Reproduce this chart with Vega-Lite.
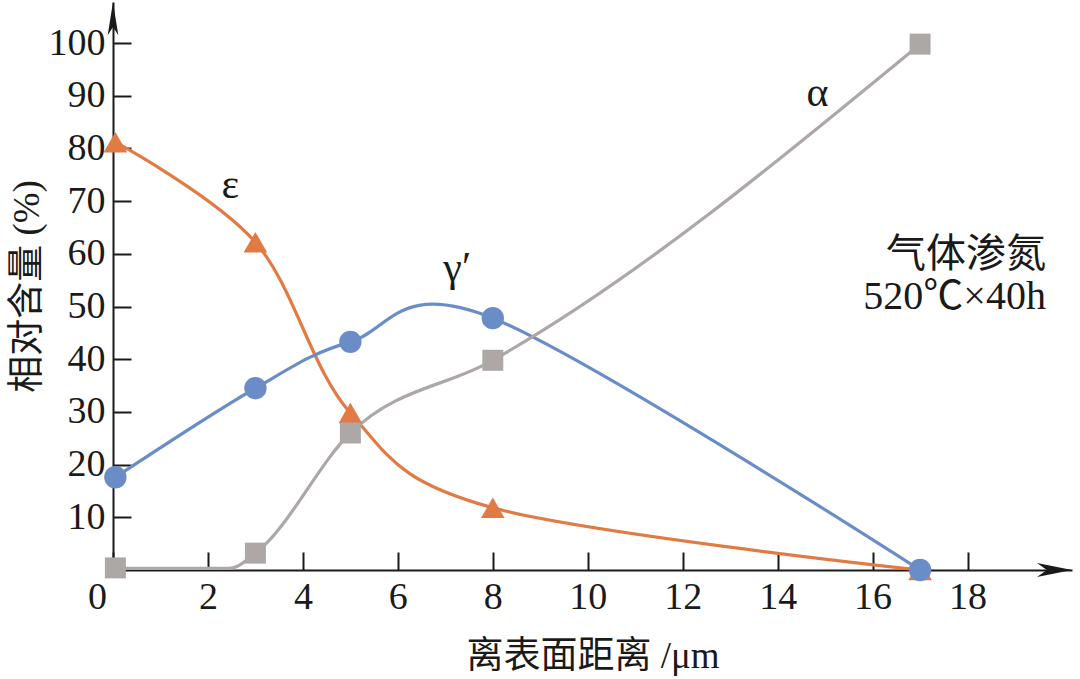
{
  "$schema": "https://vega.github.io/schema/vega-lite/v6.json",
  "width": 959,
  "height": 568,
  "autosize": {"type": "none"},
  "padding": {"left": 113, "top": 2, "right": 8, "bottom": 109},
  "background": "white",
  "config": {
    "view": {"stroke": null},
    "axis": {
      "grid": false,
      "domainColor": "#1a1a1a",
      "domainWidth": 2,
      "tickColor": "#1a1a1a",
      "tickWidth": 2,
      "tickSize": -18,
      "labelFont": "Liberation Serif",
      "labelFontSize": 38,
      "labelColor": "#1a1a1a",
      "titleFont": "Liberation Serif, Noto Sans CJK SC",
      "titleFontSize": 37,
      "titleFontWeight": "normal",
      "titleColor": "#1a1a1a"
    }
  },
  "datasets": {
    "pts": [
      {"phase": "ε", "x": 0.05, "y": 81.2},
      {"phase": "ε", "x": 3, "y": 62.2},
      {"phase": "ε", "x": 5, "y": 29.8},
      {"phase": "ε", "x": 8, "y": 11.8},
      {"phase": "ε", "x": 17, "y": 0},
      {"phase": "γ′", "x": 0.05, "y": 17.6},
      {"phase": "γ′", "x": 3, "y": 34.5},
      {"phase": "γ′", "x": 5, "y": 43.3},
      {"phase": "γ′", "x": 8, "y": 47.8},
      {"phase": "γ′", "x": 17, "y": 0},
      {"phase": "α", "x": 0.05, "y": 0.4},
      {"phase": "α", "x": 3, "y": 3.2},
      {"phase": "α", "x": 5, "y": 26},
      {"phase": "α", "x": 8, "y": 39.8},
      {"phase": "α", "x": 17, "y": 99.8}
    ],
    "alphaLine": [
      {"phase": "α", "x": 0.05, "y": 0.3},
      {"phase": "α", "x": 2.45, "y": 0.3},
      {"phase": "α", "x": 3, "y": 3.2},
      {"phase": "α", "x": 5, "y": 26},
      {"phase": "α", "x": 8, "y": 39.8},
      {"phase": "α", "x": 17, "y": 99.8}
    ],
    "notes": [
      {"x": 2.47, "y": 73, "label": "ε"},
      {"x": 7.25, "y": 57.3, "label": "γ′"},
      {"x": 14.84, "y": 90.5, "label": "α"}
    ],
    "notesR": [
      {"x": 19.65, "y": 59.8, "label": "气体渗氮"},
      {"x": 19.65, "y": 51.8, "label": "520℃×40h"}
    ],
    "arrowX": [{"x": 20.2, "y": 0}],
    "arrowY": [{"x": 0, "y": 107.8}]
  },
  "layer": [
    {
      "data": {"name": "pts"},
      "transform": [{"filter": "datum.phase !== 'α'"}],
      "mark": {"type": "line", "interpolate": "cardinal", "strokeWidth": 3.2},
      "encoding": {
        "x": {
          "field": "x", "type": "quantitative",
          "scale": {"domain": [0, 20.2], "nice": false},
          "axis": {
            "values": [0, 2, 4, 6, 8, 10, 12, 14, 16, 18],
            "title": "离表面距离 /μm",
            "labelPadding": 26,
            "labelFlush": false,
            "titlePadding": 22,
            "labelOffset": {"condition": {"test": "datum.value === 0", "value": -16}, "value": 0}
          }
        },
        "y": {
          "field": "y", "type": "quantitative",
          "scale": {"domain": [0, 107.8], "nice": false},
          "axis": {
            "values": [10, 20, 30, 40, 50, 60, 70, 80, 90, 100],
            "title": "相对含量 (%)",
            "labelPadding": 26,
            "labelFlush": false,
            "titlePadding": 2
          }
        },
        "color": {
          "field": "phase", "type": "nominal",
          "scale": {"domain": ["ε", "γ′", "α"], "range": ["#E27A43", "#6A8DC8", "#ADA7A6"]},
          "legend": null
        }
      }
    },
    {
      "data": {"name": "alphaLine"},
      "mark": {"type": "line", "interpolate": "monotone", "strokeWidth": 3.2},
      "encoding": {
        "x": {"field": "x", "type": "quantitative"},
        "y": {"field": "y", "type": "quantitative"},
        "color": {"field": "phase", "type": "nominal", "legend": null}
      }
    },
    {
      "data": {"name": "pts"},
      "mark": {"type": "point", "filled": true, "opacity": 1},
      "encoding": {
        "x": {"field": "x", "type": "quantitative"},
        "y": {"field": "y", "type": "quantitative"},
        "color": {"field": "phase", "type": "nominal", "legend": null},
        "shape": {
          "field": "phase", "type": "nominal",
          "scale": {"domain": ["ε", "γ′", "α"], "range": ["triangle-up", "circle", "square"]},
          "legend": null
        },
        "size": {
          "field": "phase", "type": "nominal",
          "scale": {"domain": ["ε", "γ′", "α"], "range": [560, 440, 340]},
          "legend": null
        }
      }
    },
    {
      "data": {"name": "arrowX"},
      "mark": {"type": "point", "filled": true, "opacity": 1, "color": "#1a1a1a", "size": 4900,
               "shape": "M0,0 L-1,-0.2 L-0.72,0 L-1,0.2 Z"},
      "encoding": {
        "x": {"field": "x", "type": "quantitative"},
        "y": {"field": "y", "type": "quantitative"}
      }
    },
    {
      "data": {"name": "arrowY"},
      "mark": {"type": "point", "filled": true, "opacity": 1, "color": "#1a1a1a", "size": 4400,
               "shape": "M0,0 L-0.16,1 L0,0.75 L0.16,1 Z"},
      "encoding": {
        "x": {"field": "x", "type": "quantitative"},
        "y": {"field": "y", "type": "quantitative"}
      }
    },
    {
      "data": {"name": "notes"},
      "mark": {"type": "text", "font": "Liberation Serif", "fontSize": 42, "color": "#1a1a1a", "baseline": "middle"},
      "encoding": {
        "x": {"field": "x", "type": "quantitative"},
        "y": {"field": "y", "type": "quantitative"},
        "text": {"field": "label"}
      }
    },
    {
      "data": {"name": "notesR"},
      "mark": {"type": "text", "font": "Liberation Serif, Noto Sans CJK SC", "fontSize": 40, "color": "#1a1a1a", "baseline": "middle", "align": "right"},
      "encoding": {
        "x": {"field": "x", "type": "quantitative"},
        "y": {"field": "y", "type": "quantitative"},
        "text": {"field": "label"}
      }
    }
  ]
}
